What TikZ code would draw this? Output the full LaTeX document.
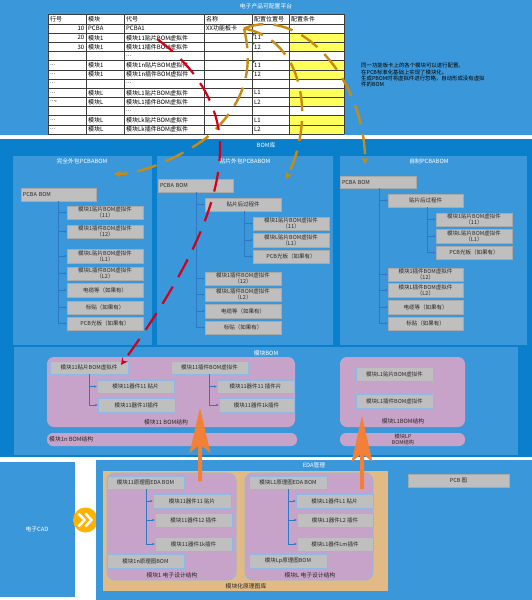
\documentclass[tikz,border=0pt]{standalone}
\usepackage{fontspec}
\setmainfont{Noto Sans CJK SC}
\usetikzlibrary{arrows.meta}
\definecolor{topblue}{HTML}{3A98DA}
\definecolor{darkblue}{HTML}{0A7FCB}
\definecolor{pinkbg}{HTML}{C8A3C9}
\definecolor{tanbg}{HTML}{E2BA86}
\definecolor{boxgray}{HTML}{BFBFBF}
\definecolor{boxline}{HTML}{A9A9A9}
\definecolor{pinkline}{HTML}{8FB8E4}
\definecolor{treeblue}{HTML}{2F78C4}
\definecolor{dashorange}{HTML}{C98A10}
\definecolor{dashred}{HTML}{D4001A}
\definecolor{blockorange}{HTML}{F28036}
\definecolor{cellyellow}{HTML}{FFFF5C}
\definecolor{amber}{HTML}{FFB200}
\definecolor{txt}{HTML}{262626}
\definecolor{gridline}{HTML}{3C3C3C}
\definecolor{cmtgreen}{HTML}{2E7D32}
\newcommand\fs[2]{\fontsize{#1}{#2}\selectfont}
\newcommand\bx[7][]{\node[box,#1,minimum width={(#5-#3)*1pt},minimum height={(#6-#4)*1pt}] (#2) at ({(#3+#5)/2},{(#4+#6)/2}) {#7};}
\newcommand\tc[4]{\node[cell,anchor=west] (#1) at (#2,{24+(#3-0.5)*9.1667}) {#4};}
\newcommand\tn[3]{\node[cell,anchor=east] (#1) at (84.5,{24+(#2-0.5)*9.1667}) {#3};}
\tikzset{
 box/.style={draw=boxline, fill=boxgray, line width=0.5pt, inner sep=0pt, text=txt, align=center, font=\fs{5.5}{6}},
 mbox/.style={draw=pinkline, line width=0.8pt},
 title/.style={text=white, font=\fs{5.8}{6.5}, inner sep=0pt},
 lbl/.style={text=txt, font=\fs{5.8}{6.2}, inner sep=0pt, align=center},
 tree/.style={draw=treeblue, line width=0.5pt, -{Stealth[length=2.6pt,width=2.4pt]}},
 odash/.style={draw=dashorange, line width=2.4pt, dash pattern=on 20pt off 10pt, -{Stealth[length=7pt,width=7pt]}},
 rdash/.style={draw=dashred, line width=2.2pt, dash pattern=on 20pt off 11pt, -{Stealth[length=7pt,width=7pt]}},
 cell/.style={inner sep=0pt, text=black, font=\fs{6}{6.5}},
 grid/.style={draw=gridline, line width=0.5pt},
}
\begin{document}
\begin{tikzpicture}[x=1pt,y=-1pt]
\useasboundingbox (0,0) rectangle (532,600);
\fill[white] (0,0) rectangle (532,600);
% ---------------- top panel ----------------
\fill[topblue] (0,0) rectangle (532,135);
\node[title] (toptitle) at (266,6) {电子产品可配置平台};
\fill[white] (48,14) rectangle (344,134);
\foreach \r in {2,3,5,6,8,9,11,12}
  \fill[cellyellow] (289,{24+(\r-1)*9.1667}) rectangle (344,{24+\r*9.1667});
\foreach \x in {48,86,124,204,252,289,344}
  \draw[grid] (\x,14) -- (\x,134);
\draw[grid] (48,14) -- (344,14);
\foreach \r in {0,...,12}
  \draw[grid] (48,{24+\r*9.1667}) -- (344,{24+\r*9.1667});
\foreach \r in {2,3,5,6}
  \fill[cmtgreen] (252.6,{24+(\r-1)*9.1667+0.4}) -- ++(2.6,0) -- ++(-2.6,2.6) -- cycle;
\node[cell,anchor=west] (h1) at (50,19) {行号};
\node[cell,anchor=west] (h2) at (88,19) {模块};
\node[cell,anchor=west] (h3) at (126,19) {代号};
\node[cell,anchor=west] (h4) at (206,19) {名称};
\node[cell,anchor=west] (h5) at (254,19) {配置位置号};
\node[cell,anchor=west] (h6) at (291,19) {配置条件};
\tn{a1}{1}{10}\tc{b1}{88}{1}{PCBA}\tc{c1}{126}{1}{PCBA1}\tc{tname}{206}{1}{XX功能板卡}
\tn{a2}{2}{20}\tc{b2}{88}{2}{模块1}\tc{c2}{126}{2}{模块11贴片BOM虚拟件}\tc{d2}{254}{2}{11}
\tn{a3}{3}{30}\tc{b3}{88}{3}{模块1}\tc{c3}{126}{3}{模块11插件BOM虚拟件}\tc{d3}{254}{3}{12}
\tc{c4}{126}{4}{...}
\tc{a5}{50}{5}{...}\tc{b5}{88}{5}{模块1}\tc{c5}{126}{5}{模块1n贴片BOM虚拟件}\tc{d5}{254}{5}{11}
\tc{a6}{50}{6}{...}\tc{b6}{88}{6}{模块1}\tc{c6}{126}{6}{模块1n插件BOM虚拟件}\tc{d6}{254}{6}{12}
\tc{a7}{50}{7}{...}\tc{c7}{126}{7}{...}
\tc{a8}{50}{8}{...}\tc{b8}{88}{8}{模块L}\tc{c8}{126}{8}{模块L1贴片BOM虚拟件}\tc{d8}{254}{8}{L1}
\tc{a9}{50}{9}{...,}\tc{b9}{88}{9}{模块L}\tc{c9}{126}{9}{模块L1插件BOM虚拟件}\tc{d9}{254}{9}{L2}
\tc{c10}{126}{10}{...}
\tc{a11}{50}{11}{...}\tc{b11}{88}{11}{模块L}\tc{c11}{126}{11}{模块Lk贴片BOM虚拟件}\tc{d11}{254}{11}{L1}
\tc{a12}{50}{12}{...}\tc{b12}{88}{12}{模块L}\tc{c12}{126}{12}{模块Lk插件BOM虚拟件}\tc{d12}{254}{12}{L2}
\node[anchor=north west, inner sep=0pt, align=left, font=\fs{5.4}{6.4}, text=black] (desc) at (361,63)
  {同一功能板卡上的各个模块可以进行配置。\\在PCB标准化基础上实现了模块化。\\生成PBOM时将虚拟件进行忽略，自动形成没有虚拟\\件的BOM};
% ---------------- BOM library ----------------
\fill[darkblue] (0,139) rectangle (532,457);
\node[title] (bomlib) at (266,145) {BOM库};
\fill[topblue] (13,156) rectangle (152,345);
\fill[topblue] (157,156) rectangle (333,345);
\fill[topblue] (340,156) rectangle (527,345);
\node[title] (t1) at (82,161) {完全外包PCBABOM};
\node[title] (t2) at (245,161) {贴片外包PCBABOM};
\node[title] (t3) at (429,161) {自制PCBABOM};
% panel 1
\bx[align=left,text width=71pt,inner xsep=2pt]{p1root}{21}{188}{96}{201}{PCBA BOM}
\bx{p1a}{67}{206}{143}{219}{模块1贴片BOM虚拟件\\（11）}
\bx{p1b}{67}{225}{143}{238}{模块1插件BOM虚拟件\\（12）}
\bx{p1c}{67}{249}{143}{263}{模块L贴片BOM虚拟件\\（L1）}
\bx{p1d}{67}{267}{143}{280}{模块L插件BOM虚拟件\\（L2）}
\bx{p1e}{67}{283}{143}{297}{电缆等（如果有）}
\bx{p1f}{67}{301}{143}{314}{标贴（如果有）}
\bx{p1g}{67}{317}{143}{330}{PCB光板（如果有）}
\coordinate (p1t) at (58,201);
\foreach \c in {p1a,p1b,p1c,p1d,p1e,p1f,p1g} \draw[tree] (p1t) |- (\c.west);
% panel 2
\bx[align=left,text width=71pt,inner xsep=2pt]{p2root}{158}{179}{233}{192}{PCBA BOM}
\bx{p2s}{205}{198}{281}{211}{贴片后过程件}
\bx{p2a}{253}{217}{329}{230}{模块1贴片BOM虚拟件\\（11）}
\bx{p2b}{253}{233}{329}{247}{模块L贴片BOM虚拟件\\（L1）}
\bx{p2c}{253}{250}{329}{263}{PCB光板（如果有）}
\bx{p2d}{205}{272}{281}{285}{模块1插件BOM虚拟件\\（12）}
\bx{p2e}{205}{288}{281}{301}{模块L插件BOM虚拟件\\（L2）}
\bx{p2f}{205}{304}{281}{318}{电缆等（如果有）}
\bx{p2g}{205}{321}{281}{334}{标贴（如果有）}
\coordinate (p2t) at (196,192);
\coordinate (p2st) at (244,211);
\foreach \c in {p2s,p2d,p2e,p2f,p2g} \draw[tree] (p2t) |- (\c.west);
\foreach \c in {p2a,p2b,p2c} \draw[tree] (p2st) |- (\c.west);
% panel 3
\bx[align=left,text width=72pt,inner xsep=2pt]{p3root}{340}{176}{416}{188}{PCBA BOM}
\bx{p3s}{388}{194}{463}{207}{贴片后过程件}
\bx{p3a}{436}{213}{512}{226}{模块1贴片BOM虚拟件\\（11）}
\bx{p3b}{436}{229}{512}{243}{模块L贴片BOM虚拟件\\（L1）}
\bx{p3c}{436}{246}{512}{259}{PCB光板（如果有）}
\bx{p3d}{388}{268}{463}{281}{模块1插件BOM虚拟件\\（12）}
\bx{p3e}{388}{283}{463}{297}{模块L插件BOM虚拟件\\（L2）}
\bx{p3f}{388}{300}{463}{314}{电缆等（如果有）}
\bx{p3g}{388}{317}{463}{330}{标贴（如果有）}
\coordinate (p3t) at (379,188);
\coordinate (p3st) at (427,207);
\foreach \c in {p3s,p3d,p3e,p3f,p3g} \draw[tree] (p3t) |- (\c.west);
\foreach \c in {p3a,p3b,p3c} \draw[tree] (p3st) |- (\c.west);
% module BOM
\fill[topblue] (14,347) rectangle (518,455);
\node[title] (mtitle) at (266,353) {模块BOM};
\fill[pinkbg, rounded corners=7pt] (47,357) rectangle (295,427);
\fill[pinkbg, rounded corners=7pt] (340,357) rectangle (465,427);
\fill[pinkbg, rounded corners=6pt] (47,433) rectangle (297,446);
\fill[pinkbg, rounded corners=6pt] (340,433) rectangle (465,446);
\bx[mbox]{m1a}{50}{361}{128}{374}{模块11贴片BOM虚拟件}
\bx[mbox]{m1a1}{97}{380}{174}{393}{模块11器件11 贴片}
\bx[mbox]{m1a2}{98}{398}{175}{412}{模块11器件1l插件}
\bx[mbox]{m1b}{171}{361}{248}{374}{模块11插件BOM虚拟件}
\bx[mbox]{m1b1}{217}{380}{294}{393}{模块11器件11 插件片}
\bx[mbox]{m1b2}{219}{398}{294}{412}{模块11器件1k插件}
\coordinate (m1at) at (89,374);
\coordinate (m1bt) at (209,374);
\foreach \c in {m1a1,m1a2} \draw[tree] (m1at) |- (\c.west);
\foreach \c in {m1b1,m1b2} \draw[tree] (m1bt) |- (\c.west);
\node[lbl] (m1lbl) at (166,422) {模块11 BOM结构};
\bx[mbox]{mLa}{356}{367}{433}{381}{模块L1贴片BOM虚拟件}
\bx[mbox]{mLb}{356}{394}{433}{408}{模块L1插件BOM虚拟件}
\node[lbl] (mLlbl) at (403,421) {模块L1BOM结构};
\node[lbl, anchor=west] (m1nlbl) at (49,439.5) {模块1n BOM结构};
\node[lbl, font=\fs{5.3}{5.6}] (mLplbl) at (403,439.5) {模块LP\\BOM结构};
% ---------------- EDA ----------------
\fill[topblue] (0,462) rectangle (75,597);
\node[title] (cad) at (37,529) {电子CAD};
\node[circle, fill=amber, minimum size=25pt, inner sep=0pt] (chev) at (85.5,520) {};
\draw[white, line width=2.5pt] (78.5,513.5) -- (84.5,520) -- (78.5,526.5);
\draw[white, line width=2.5pt] (85.5,513.5) -- (91.5,520) -- (85.5,526.5);
\fill[topblue] (96,460) rectangle (532,600);
\node[title] (edatitle) at (314,465) {EDA管理};
\fill[tanbg] (103,471) rectangle (388,591);
\filldraw[fill=pinkbg, draw=pinkline, line width=0.8pt, rounded corners=8pt] (107,473) rectangle (236,580);
\filldraw[fill=pinkbg, draw=pinkline, line width=0.8pt, rounded corners=8pt] (245,473) rectangle (373,580);
\bx[mbox]{e1r}{107}{476}{184}{489}{模块11原理图EDA BOM}
\bx[mbox]{e1a}{153}{494}{231}{508}{模块11器件11 贴片}
\bx[mbox]{e1b}{155}{513}{232}{527}{模块11器件12 插件}
\bx[mbox]{e1c}{155}{537}{232}{551}{模块11器件1k插件}
\bx[mbox]{e1n}{107}{554}{184}{568}{模块1n原理图BOM}
\coordinate (e1t) at (146,489);
\foreach \c in {e1a,e1b,e1c} \draw[tree] (e1t) |- (\c.west);
\node[lbl] (e1lbl) at (172,575) {模块1 电子设计结构};
\bx[mbox]{eLr}{249}{476}{327}{489}{模块L1原理图EDA BOM}
\bx[mbox]{eLa}{296}{494}{373}{508}{模块L1器件L1 贴片}
\bx[mbox]{eLb}{297}{513}{373}{527}{模块L1器件L2 插件}
\bx[mbox]{eLc}{297}{537}{373}{551}{模块L1器件Lm插件}
\bx[mbox]{eLp}{249}{554}{327}{568}{模块Lp原理图BOM}
\coordinate (eLt) at (288,489);
\foreach \c in {eLa,eLb,eLc} \draw[tree] (eLt) |- (\c.west);
\node[lbl] (eLlbl) at (310,575) {模块L 电子设计结构};
\node[lbl] (liblbl) at (246,586) {模块化原理图库};
\bx{pcb}{408}{474}{509}{487}{PCB 图}
% block arrows
\fill[blockorange] (200,408) -- (210.5,453) -- (202,446) -- (202,481) -- (198,481) -- (198,446) -- (189.5,453) -- cycle;
\fill[blockorange] (362,416) -- (372.5,462) -- (364,455) -- (364,489) -- (360,489) -- (360,455) -- (351.5,462) -- cycle;
% dashed connectors
\coordinate (S) at (244,28.5);
\coordinate (eA) at (365,164);
\coordinate (eB) at (114,174);
\coordinate (eC) at (286,179);
\coordinate (R0) at (157,39);
\coordinate (eR) at (121,365);
\draw[odash] (S) .. controls (300,5) and (365,80) .. (eA);
\draw[odash] (S) .. controls (305,40) and (315,120) .. (eC);
\draw[odash] (S) .. controls (254,70) and (245,105) .. (205,139) .. controls (175,160) and (140,174) .. (eB);
\draw[rdash] (R0) .. controls (200,70) and (221,110) .. (220,150) .. controls (219,215) and (175,290) .. (eR);
\end{tikzpicture}
\end{document}
